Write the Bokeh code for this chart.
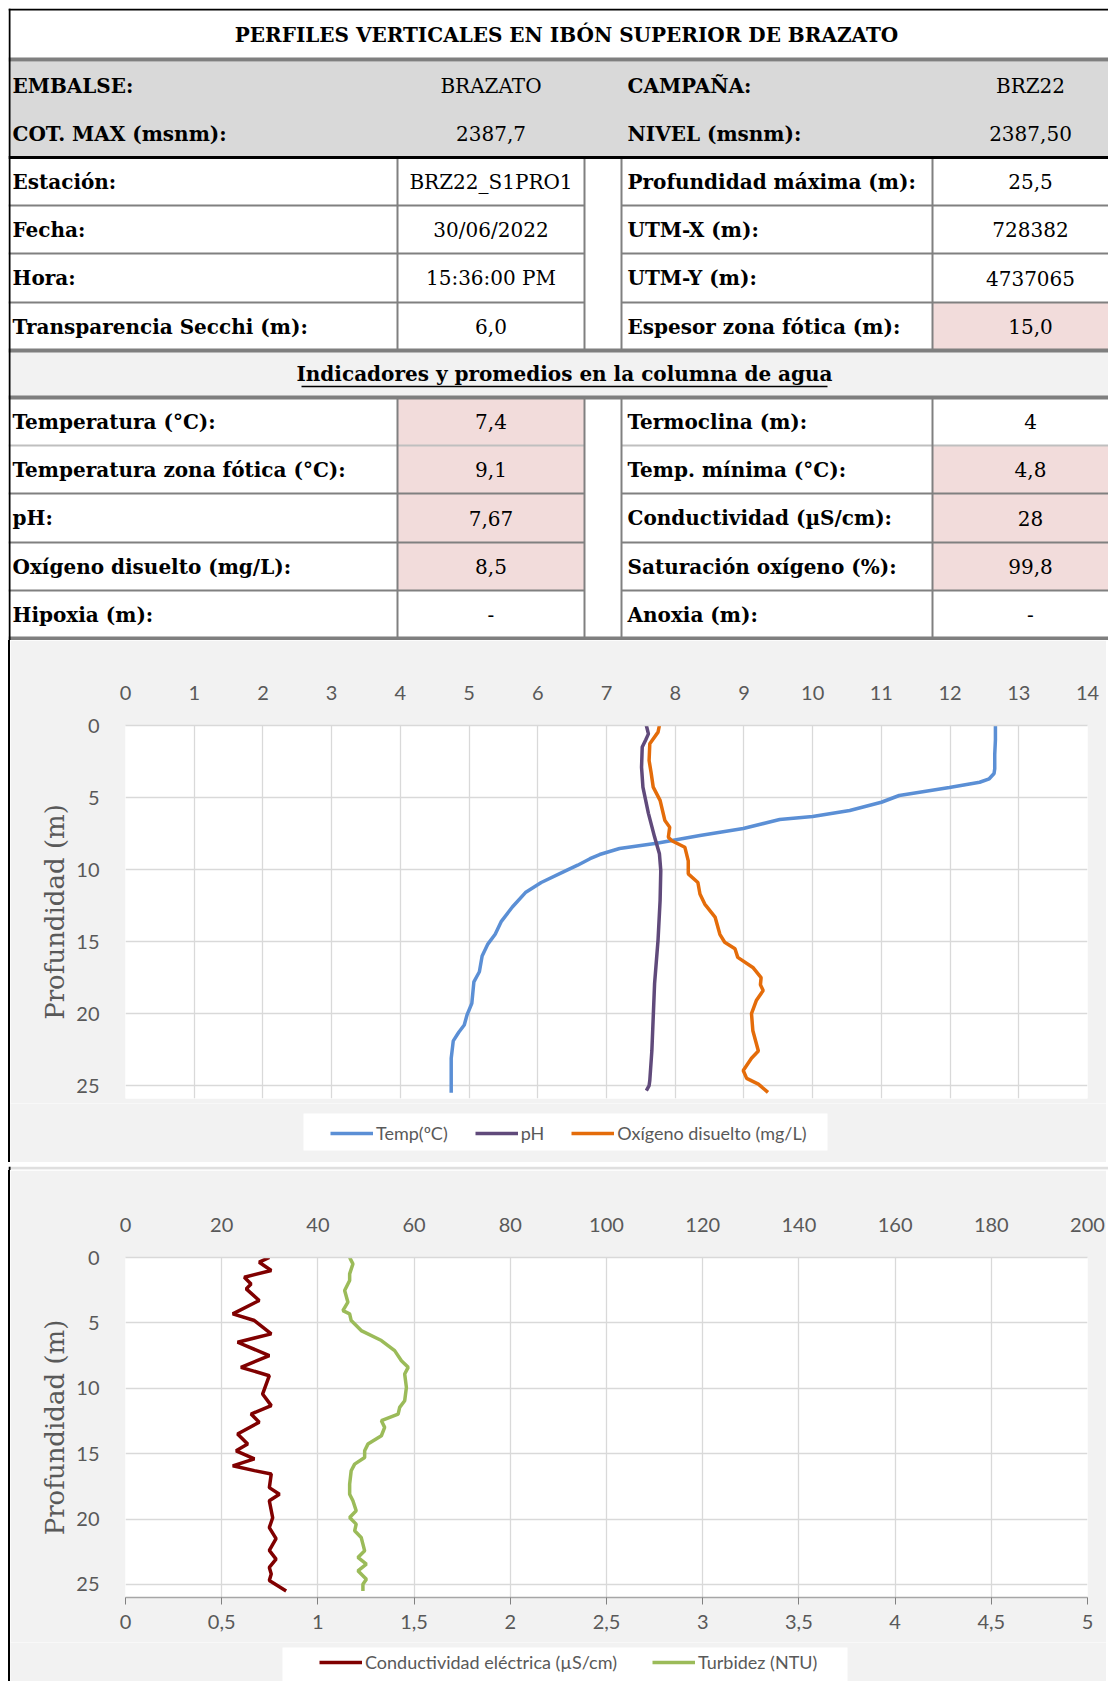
from bokeh.plotting import figure
from bokeh.models import Range1d, LinearAxis, FixedTicker, Legend, LegendItem, CustomJSTickFormatter
from bokeh.core.properties import value
from bokeh.embed import file_html
from bokeh.resources import INLINE

# ---------------- table data ----------------
TITLE = "PERFILES VERTICALES EN IBÓN SUPERIOR DE BRAZATO"
HEAD_L_LABELS = ["EMBALSE:", "COT. MAX (msnm):"]
HEAD_L_VALUES = ["BRAZATO", "2387,7"]
HEAD_R_LABELS = ["CAMPAÑA:", "NIVEL (msnm):"]
HEAD_R_VALUES = ["BRZ22", "2387,50"]

B1_L_LABELS = ["Estación:", "Fecha:", "Hora:", "Transparencia Secchi (m):"]
B1_L_VALUES = ["BRZ22_S1PRO1", "30/06/2022", "15:36:00 PM", "6,0"]
B1_R_LABELS = ["Profundidad máxima (m):", "UTM-X (m):", "UTM-Y (m):", "Espesor zona fótica (m):"]
B1_R_VALUES = ["25,5", "728382", "4737065", "15,0"]
B1_L_PINK = [False, False, False, False]
B1_R_PINK = [False, False, False, True]

SUBTITLE = "Indicadores y promedios en la columna de agua"

B2_L_LABELS = ["Temperatura (°C):", "Temperatura zona fótica (°C):", "pH:", "Oxígeno disuelto (mg/L):", "Hipoxia (m):"]
B2_L_VALUES = ["7,4", "9,1", "7,67", "8,5", "-"]
B2_R_LABELS = ["Termoclina (m):", "Temp. mínima (°C):", "Conductividad (µS/cm):", "Saturación oxígeno (%):", "Anoxia (m):"]
B2_R_VALUES = ["4", "4,8", "28", "99,8", "-"]
B2_L_PINK = [True, True, True, True, False]
B2_R_PINK = [False, True, True, True, False]

# ---------------- chart 1 data ----------------
TEMP_DEPTH = [0, 1, 2, 3, 3.33, 3.7, 3.94, 4.3, 4.86, 5.33, 5.9, 6.32, 6.53, 7.15, 7.64, 8.17, 8.54, 8.96,
              9.25, 9.7, 10.15, 10.9, 11.6, 12.6, 13.6, 14.5, 15.2, 16.0, 17.1, 17.8, 19.3, 20.1, 20.8, 21.3,
              21.9, 23.1, 25.5]
TEMP = [12.66, 12.66, 12.65, 12.65, 12.64, 12.57, 12.43, 11.99, 11.26, 11.0, 10.54, 10.0, 9.52, 8.99, 8.36,
        7.73, 7.19, 6.9, 6.76, 6.58, 6.38, 6.05, 5.82, 5.63, 5.47, 5.38, 5.27, 5.19, 5.15, 5.07, 5.04, 4.97,
        4.93, 4.85, 4.77, 4.74, 4.74]

PH_DEPTH = [0, 0.58, 1.0, 1.5, 2.9, 4.28, 6.1, 7.75, 8.9, 10.07, 12.15, 14.9, 17.9, 20.25, 22.6, 24.65, 25.0, 25.35]
PH = [7.58, 7.61, 7.57, 7.52, 7.51, 7.53, 7.61, 7.70, 7.77, 7.79, 7.78, 7.75, 7.70, 7.68, 7.66, 7.63, 7.62, 7.58]

OX_DEPTH = [0, 0.46, 1.27, 2.43, 3.3, 4.28, 5.2, 6.6, 7.06, 7.76, 8.0, 8.45, 9.4, 10.3, 10.9, 11.7, 12.4,
            13.3, 14.5, 15.05, 15.5, 16.1, 16.8, 17.5, 18.0, 18.4, 19.1, 20.0, 21.2, 22.6, 23.1, 23.96,
            24.5, 24.9, 25.47]
OX = [7.77, 7.75, 7.63, 7.62, 7.65, 7.68, 7.78, 7.85, 7.92, 7.90, 7.95, 8.14, 8.19, 8.19, 8.33, 8.36, 8.43,
      8.58, 8.65, 8.72, 8.87, 8.91, 9.13, 9.25, 9.24, 9.28, 9.18, 9.11, 9.13, 9.21, 9.11, 8.99, 9.04,
      9.21, 9.35]

# ---------------- chart 2 data ----------------
COND_DEPTH = [0.0, 0.36, 0.99, 1.51, 2.02, 2.4, 3.29, 4.31, 4.82, 5.84, 6.48, 7.5, 8.4, 9.04, 10.44, 11.33,
              11.97, 12.6, 13.5, 14.27, 14.78, 15.4, 15.93, 16.3, 16.56, 17.6, 18.1, 18.6, 19.9, 20.65,
              21.5, 22.4, 23.07, 23.7, 24.2, 24.7, 25.5]
COND = [29.9, 27.8, 30.3, 24.7, 26.1, 25.1, 27.8, 22.3, 26.8, 30.3, 23.3, 29.9, 24.0, 29.9, 28.5, 30.3,
        26.1, 27.8, 23.3, 25.4, 23.0, 26.8, 22.3, 26.8, 30.3, 29.9, 32.0, 29.9, 30.6, 29.9, 31.3, 29.9,
        31.3, 29.9, 30.3, 29.9, 33.4]

TURB_DEPTH = [0.0, 0.49, 1.25, 1.76, 2.53, 3.42, 4.06, 4.31, 4.82, 5.59, 6.35, 7.12, 7.89, 8.4, 8.91, 9.93,
              10.95, 11.46, 11.97, 12.48, 12.99, 13.63, 14.27, 14.78, 15.29, 15.8, 16.31, 17.33, 18.1,
              18.6, 19.37, 19.88, 20.39, 20.9, 21.41, 21.92, 22.43, 22.94, 23.45, 23.96, 24.6, 24.98, 25.5]
TURB = [1.165, 1.182, 1.165, 1.165, 1.139, 1.156, 1.130, 1.165, 1.173, 1.225, 1.330, 1.399, 1.434, 1.469,
        1.451, 1.460, 1.451, 1.425, 1.417, 1.330, 1.347, 1.330, 1.260, 1.243, 1.243, 1.191, 1.173, 1.165,
        1.165, 1.182, 1.199, 1.165, 1.199, 1.191, 1.225, 1.234, 1.243, 1.208, 1.252, 1.208, 1.252, 1.234,
        1.234]

C1_XTICKS = list(range(0, 15))
C2_TOP_TICKS = list(range(0, 201, 20))
C2_BOT_TICKS = [0, 0.5, 1, 1.5, 2, 2.5, 3, 3.5, 4, 4.5, 5]
DEPTH_TICKS = [0, 5, 10, 15, 20, 25]

LEG1_LABELS = ["Temp(ºC)", "pH", "Oxígeno disuelto (mg/L)"]
LEG2_LABELS = ["Conductividad eléctrica (µS/cm)", "Turbidez (NTU)"]
C_TEMP, C_PH, C_OX, C_COND, C_TURB = "#5b8fd5", "#604a7b", "#e46c0a", "#800000", "#9bbb59"

SERIF_NAME = "DejaVu Serif"
SERIF = value(SERIF_NAME)
SANS = "Lato"
GRAYTXT = "#595959"
GRID = "#d9d9d9"
CHART_BG = "#f2f2f2"
NAN = float("nan")

# ================= TABLE =================
W = 1100
TH = 632
t = figure(width=W, height=TH, x_range=Range1d(0, W), y_range=Range1d(TH, 0),
           x_axis_type=None, y_axis_type=None, toolbar_location=None, output_backend="svg",
           min_border=0)
t.grid.visible = False
t.outline_line_color = None
t.background_fill_color = "white"
t.border_fill_color = "white"
t.styles = {"margin-left": "8px", "margin-top": "8px"}

X_C1 = 389
X_C2 = 576
X_C3 = 613
X_C4 = 924
LBL_L = 4
LBL_R = 619
VAL_L = (X_C1 + X_C2) / 2
VAL_R = 1022

HEAD_EDGES = [53, 101, 149]
B1_EDGES = [149, 197, 245, 294, 342]
SUB_EDGES = [342, 389]
B2_EDGES = [389, 437, 485, 534, 582, 630]

t.quad(left=[0], right=[W], top=[HEAD_EDGES[0]], bottom=[HEAD_EDGES[-1]], fill_color="#d9d9d9", line_color=None)
t.quad(left=[0], right=[W], top=[SUB_EDGES[0]], bottom=[SUB_EDGES[1]], fill_color="#f2f2f2", line_color=None)
pl, pr, ptop, pbot = [], [], [], []
for edges, lp, rp in [(B1_EDGES, B1_L_PINK, B1_R_PINK), (B2_EDGES, B2_L_PINK, B2_R_PINK)]:
    for i in range(len(lp)):
        if lp[i]:
            pl.append(X_C1); pr.append(X_C2); ptop.append(edges[i]); pbot.append(edges[i + 1])
        if rp[i]:
            pl.append(X_C4); pr.append(W); ptop.append(edges[i]); pbot.append(edges[i + 1])
t.quad(left=pl, right=pr, top=ptop, bottom=pbot, fill_color="#f2dcdb", line_color=None)

sx0, sx1, sy, sc = [], [], [], []
for edges in [B1_EDGES, B2_EDGES]:
    for k, y in enumerate(edges[1:-1]):
        col = "#bfbfbf" if (edges is B2_EDGES and k == 0) else "#808080"
        sx0 += [0, X_C3]; sx1 += [X_C2, W]; sy += [y, y]; sc += [col, col]
t.segment(x0=sx0, y0=sy, x1=sx1, y1=sy, line_color=sc, line_width=2)
vx, vy0, vy1 = [], [], []
for edges in [B1_EDGES, B2_EDGES]:
    for x in [X_C1, X_C2, X_C3, X_C4]:
        vx.append(x); vy0.append(edges[0]); vy1.append(edges[-1])
t.segment(x0=vx, y0=vy0, x1=vx, y1=vy1, line_color="#808080", line_width=2)
t.segment(x0=[0] * 4, y0=[51, 342, 389, 630], x1=[W] * 4, y1=[51, 342, 389, 630], line_color="#7f7f7f", line_width=4)
t.segment(x0=[0], y0=[149], x1=[W], y1=[149], line_color="black", line_width=3)
t.segment(x0=[0], y0=[1], x1=[W], y1=[1], line_color="black", line_width=2)
t.segment(x0=[1], y0=[0], x1=[1], y1=[TH], line_color="black", line_width=2)

FS = "20px"
def centers(edges):
    return [(edges[i] + edges[i + 1]) / 2 for i in range(len(edges) - 1)]

t.text(x=[558], y=[26], text=[TITLE], text_font=SERIF, text_font_style="bold", text_font_size="20px",
       text_align="center", text_baseline="middle", text_color="black")
t.text(x=[556], y=[(SUB_EDGES[0] + SUB_EDGES[1]) / 2], text=[SUBTITLE], text_font=SERIF, text_font_style="bold",
       text_font_size="20px", text_align="center", text_baseline="middle", text_color="black")
t.segment(x0=[293], y0=[378], x1=[819], y1=[378], line_color="black", line_width=1.5)

for edges, ll, lv, rl, rv in [(HEAD_EDGES, HEAD_L_LABELS, HEAD_L_VALUES, HEAD_R_LABELS, HEAD_R_VALUES),
                              (B1_EDGES, B1_L_LABELS, B1_L_VALUES, B1_R_LABELS, B1_R_VALUES),
                              (B2_EDGES, B2_L_LABELS, B2_L_VALUES, B2_R_LABELS, B2_R_VALUES)]:
    ys = [77, 125] if edges is HEAD_EDGES else centers(edges)
    t.text(x=[LBL_L] * len(ll), y=ys, text=ll, text_font=SERIF, text_font_style="bold", text_font_size=FS,
           text_align="left", text_baseline="middle", text_color="black")
    t.text(x=[LBL_R] * len(rl), y=ys, text=rl, text_font=SERIF, text_font_style="bold", text_font_size=FS,
           text_align="left", text_baseline="middle", text_color="black")
    t.text(x=[VAL_L] * len(lv), y=ys, text=lv, text_font=SERIF, text_font_size=FS,
           text_align="center", text_baseline="middle", text_color="black")
    t.text(x=[VAL_R] * len(rv), y=ys, text=rv, text_font=SERIF, text_font_size=FS,
           text_align="center", text_baseline="middle", text_color="black")

CW = 1098  # chart canvas width (plus 8px page margin and 2px black left border via CSS)
BORDER = {"margin-left": "8px", "border-left": "2px solid black"}


def style_chart(p):
    p.background_fill_color = "white"
    p.border_fill_color = CHART_BG
    p.outline_line_color = None
    p.grid.grid_line_color = GRID
    p.grid.grid_line_width = 1.3
    for ax in p.axis:
        ax.major_label_text_font = SANS
        ax.major_label_text_font_size = "20px"
        ax.major_label_text_color = GRAYTXT
        ax.minor_tick_line_color = None
        ax.major_tick_line_color = None
        ax.axis_line_color = GRID
        ax.axis_line_width = 1.3
    p.yaxis.axis_line_color = None
    p.yaxis.ticker = FixedTicker(ticks=DEPTH_TICKS)
    p.yaxis.major_label_standoff = 20
    p.yaxis.axis_label = "Profundidad (m)"
    p.yaxis.axis_label_text_font = SERIF_NAME
    p.yaxis.axis_label_text_font_style = "normal"
    p.yaxis.axis_label_text_font_size = "26px"
    p.yaxis.axis_label_text_color = GRAYTXT
    p.yaxis.axis_label_standoff = 3
    p.styles = BORDER


def legend_strip(height, box, labels, colors, first_x, spacing):
    """A strip under a chart holding its legend (white box + legend entries)."""
    lf = figure(width=CW, height=height, x_range=Range1d(0, CW), y_range=Range1d(height, 0),
                x_axis_type=None, y_axis_type=None, toolbar_location=None, output_backend="svg", min_border=0)
    lf.grid.visible = False
    lf.outline_line_color = None
    lf.background_fill_color = CHART_BG
    lf.border_fill_color = CHART_BG
    lf.styles = BORDER
    lf.quad(left=[box[0]], right=[box[1]], top=[box[2]], bottom=[box[3]], fill_color="white", line_color=None)
    items = []
    for lab, col in zip(labels, colors):
        # legend-only renderer: its single point is NaN, so nothing is drawn in the strip itself
        r = lf.line(x=[NAN, NAN], y=[NAN, NAN], line_color=col, line_width=3.5)
        items.append(LegendItem(label=lab, renderers=[r]))
    leg = Legend(items=items, orientation="horizontal", location="left")
    leg.margin = first_x
    leg.padding = 0
    leg.spacing = spacing
    leg.label_text_font = SANS
    leg.label_text_font_size = "18px"
    leg.label_text_color = GRAYTXT
    leg.glyph_width = 43
    leg.glyph_height = 18
    leg.label_standoff = 3
    leg.background_fill_alpha = 0
    leg.border_line_color = None
    lf.add_layout(leg)
    return lf

# ================= CHART 1 =================
c1 = figure(width=CW, height=463, x_range=Range1d(0, 14), y_range=Range1d(25.9, 0), x_axis_location="above",
            toolbar_location=None, output_backend="svg",
            min_border_left=115, min_border_right=21, min_border_top=85, min_border_bottom=5)
c1.line(TEMP, TEMP_DEPTH, line_color=C_TEMP, line_width=3.5)
c1.line(PH, PH_DEPTH, line_color=C_PH, line_width=3.5)
c1.line(OX, OX_DEPTH, line_color=C_OX, line_width=3.5)
style_chart(c1)
c1.xaxis.ticker = FixedTicker(ticks=C1_XTICKS)
c1.xaxis.major_label_standoff = 20

leg1 = legend_strip(59, (293, 817, 10, 47), LEG1_LABELS, [C_TEMP, C_PH, C_OX], 320, 27)

# ================= separator =================
sep = figure(width=W, height=8, x_range=Range1d(0, W), y_range=Range1d(8, 0),
             x_axis_type=None, y_axis_type=None, toolbar_location=None, output_backend="svg", min_border=0)
sep.grid.visible = False
sep.outline_line_color = None
sep.background_fill_color = CHART_BG
sep.border_fill_color = CHART_BG
sep.styles = {"margin-left": "8px"}
sep.segment(x0=[0], y0=[1.5], x1=[W], y1=[1.5], line_color="#d9d9d9", line_width=1.5)
sep.segment(x0=[0], y0=[6], x1=[W], y1=[6], line_color="#808080", line_width=4)
sep.segment(x0=[1], y0=[0], x1=[1], y1=[8], line_color="black", line_width=2)

# ================= CHART 2 =================
c2 = figure(width=CW, height=472, x_range=Range1d(0, 5), y_range=Range1d(26, 0), x_axis_location="below",
            toolbar_location=None, output_backend="svg",
            min_border_left=115, min_border_right=21, min_border_top=87, min_border_bottom=45)
c2.extra_x_ranges = {"cond": Range1d(0, 200)}
top_ax = LinearAxis(x_range_name="cond")
c2.add_layout(top_ax, "above")
c2.line(COND, COND_DEPTH, x_range_name="cond", line_color=C_COND, line_width=3.5)
c2.line(TURB, TURB_DEPTH, line_color=C_TURB, line_width=3.5)
style_chart(c2)
bot = c2.below[0]
bot.ticker = FixedTicker(ticks=C2_BOT_TICKS)
bot.formatter = CustomJSTickFormatter(code="return tick.toString().replace('.', ',');")
bot.axis_line_color = "#a6a6a6"
bot.major_tick_line_color = "#808080"
bot.major_tick_out = 7
bot.major_tick_in = 0
bot.major_label_standoff = 10
top_ax.ticker = FixedTicker(ticks=C2_TOP_TICKS)
top_ax.major_label_standoff = 20
c2.xgrid.ticker = FixedTicker(ticks=C2_BOT_TICKS)

leg2 = legend_strip(39, (272, 837, 5, 45), LEG2_LABELS, [C_COND, C_TURB], 309, 35)

open("out.html", "w").write(file_html([t, c1, leg1, sep, c2, leg2], INLINE))
